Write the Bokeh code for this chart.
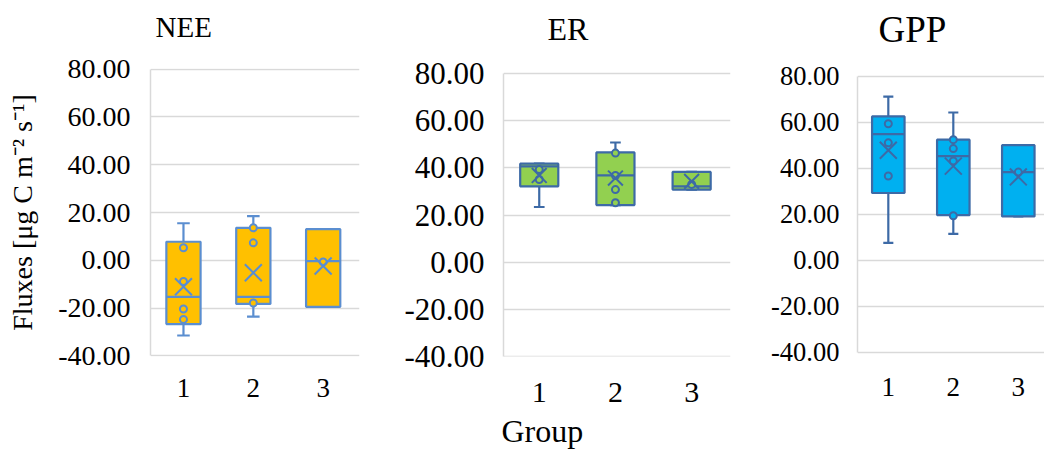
from bokeh.plotting import figure
from bokeh.layouts import row
from bokeh.models import FixedTicker, PrintfTickFormatter, LinearAxis, Range1d, Title
from bokeh.embed import file_html
from bokeh.resources import INLINE

groups = [1, 2, 3]
y_ticks = [-40, -20, 0, 20, 40, 60, 80]

# NEE box statistics per group
nee_low = [-31.5, -23.6, -19.5]
nee_q1 = [-26.7, -18.3, -19.5]
nee_med = [-15.3, -15.3, -0.4]
nee_q3 = [7.75, 13.6, 13.0]
nee_high = [15.5, 18.5, 13.0]
nee_mean = [-11.1, -5.2, -2.4]
nee_points = [[5.25, -8.9, -20.4, -24.75], [13.6, 7.3, -17.9], [-0.7]]

# ER box statistics per group
er_low = [23.4, 24.2, 30.8]
er_q1 = [32.2, 24.2, 30.8]
er_med = [40.7, 36.8, 32.2]
er_q3 = [41.8, 46.6, 38.3]
er_high = [41.8, 50.8, 38.3]
er_mean = [36.8, 35.7, 34.3]
er_points = [[39.3, 35.1], [46.3, 36.8, 30.8, 25.2], [33.0]]

# GPP box statistics per group
gpp_low = [7.6, 11.5, 19.1]
gpp_q1 = [29.3, 19.7, 19.1]
gpp_med = [54.9, 45.3, 38.4]
gpp_q3 = [62.6, 52.5, 50.1]
gpp_high = [71.2, 64.3, 50.1]
gpp_mean = [47.9, 41.0, 36.3]
gpp_points = [[59.4, 51.1, 36.7], [52.5, 48.6, 43.2, 19.4], [38.4]]

FONT = "Liberation Serif"
GRID = "#d9d9d9"


def spacer(size):
    """Invisible axis that only reserves `size` pixels next to the plot area."""
    return LinearAxis(ticker=FixedTicker(ticks=groups),
                      major_label_overrides={g: "" for g in groups},
                      axis_line_color=None, major_tick_in=0, major_tick_out=size,
                      major_tick_line_color=None, minor_tick_in=0, minor_tick_out=0,
                      major_label_standoff=0)


def caption(text, offset, size, valign):
    return Title(text=text, align="left", offset=offset, standoff=0,
                 vertical_align=valign, text_font=FONT, text_font_size=size,
                 text_font_style="normal", text_color="black")


def panel(name, low, q1, med, q3, high, mean, points, fill, edge, geo):
    p = figure(width=geo["w"], height=451, output_backend="svg", toolbar_location=None,
               x_range=Range1d(*geo["xr"]), y_range=Range1d(*geo["yr"]),
               min_border_left=geo["l"], min_border_right=geo["r"],
               min_border_top=68, min_border_bottom=95,
               outline_line_color=None, background_fill_color="white",
               border_fill_color="white")

    # axes
    p.yaxis.ticker = FixedTicker(ticks=y_ticks)
    p.yaxis.formatter = PrintfTickFormatter(format="%.2f")
    p.yaxis.bounds = (-40, 80)
    p.xaxis.ticker = FixedTicker(ticks=groups)
    for ax in (p.xaxis, p.yaxis):
        ax.major_tick_in = 0
        ax.major_tick_out = 0
        ax.minor_tick_in = 0
        ax.minor_tick_out = 0
        ax.major_label_text_font = FONT
        ax.major_label_text_color = "black"
    p.yaxis.axis_line_color = GRID
    p.yaxis.axis_line_width = 1.5
    p.xaxis.axis_line_color = None
    p.yaxis.major_label_text_font_size = geo["yfs"]
    p.xaxis.major_label_text_font_size = geo["xfs"]
    p.yaxis.major_label_standoff = geo["ystand"]
    p.xaxis.major_label_standoff = geo["xstand"]
    p.xgrid.visible = False
    p.ygrid.ticker = FixedTicker(ticks=y_ticks)
    p.ygrid.grid_line_color = GRID
    p.ygrid.grid_line_width = 1.5

    bw = geo["bw"]
    cw = geo["cw"]
    lw = 2.2
    # whiskers and caps
    p.segment(x0=groups, y0=q3, x1=groups, y1=high, line_color=edge, line_width=lw)
    p.segment(x0=groups, y0=q1, x1=groups, y1=low, line_color=edge, line_width=lw)
    p.segment(x0=[g - cw / 2 for g in groups], y0=high,
              x1=[g + cw / 2 for g in groups], y1=high, line_color=edge, line_width=lw)
    p.segment(x0=[g - cw / 2 for g in groups], y0=low,
              x1=[g + cw / 2 for g in groups], y1=low, line_color=edge, line_width=lw)
    # boxes
    p.vbar(x=groups, width=bw, top=q3, bottom=q1, fill_color=fill,
           line_color=edge, line_width=lw)
    # medians
    p.segment(x0=[g - bw / 2 for g in groups], y0=med,
              x1=[g + bw / 2 for g in groups], y1=med, line_color=edge, line_width=lw)
    # inner points
    px = [g for g, pts in zip(groups, points) for _ in pts]
    py = [v for pts in points for v in pts]
    p.scatter(px, py, marker="circle", size=geo["ps"], fill_color=fill,
              line_color=edge, line_width=2)
    # means
    p.scatter(groups, mean, marker="x", size=geo["ms"], line_color=edge, line_width=2)

    # panel heading, lifted above the plot area by a spacer
    p.add_layout(spacer(geo["tgap"]), "above")
    p.add_layout(caption(name, geo["toff"], geo["tfs"], "bottom"), "above")
    return p


p1 = panel("NEE", nee_low, nee_q1, nee_med, nee_q3, nee_high, nee_mean, nee_points,
           "#FFC000", "#5B8ED0",
           dict(w=380, l=150, r=21, xr=(0.528, 3.52), yr=(-40.293, 80.293),
                bw=0.49, cw=0.18, yfs="28px", xfs="27px", ystand=20, xstand=22,
                ps=7, ms=24, tgap=26, toff=5, tfs="29px"))
p1.yaxis.axis_label = "Fluxes [μg C m⁻² s⁻¹]"
p1.yaxis.axis_label_text_font = FONT
p1.yaxis.axis_label_text_font_size = "28px"
p1.yaxis.axis_label_text_font_style = "normal"
p1.yaxis.axis_label_text_color = "black"
p1.yaxis.axis_label_standoff = 17

p2 = panel("ER", er_low, er_q1, er_med, er_q3, er_high, er_mean, er_points,
           "#92D050", "#3D6AA6",
           dict(w=380, l=123, r=30, xr=(0.531, 3.51), yr=(-40.127, 82.252),
                bw=0.5, cw=0.14, yfs="31px", xfs="30px", ystand=19, xstand=26,
                ps=7, ms=21, tgap=22, toff=44, tfs="32px"))
p2.add_layout(spacer(8), "below")
p2.add_layout(caption("Group", -2, "32px", "top"), "below")

p3 = panel("GPP", gpp_low, gpp_q1, gpp_med, gpp_q3, gpp_high, gpp_mean, gpp_points,
           "#00B0F0", "#3D6AA6",
           dict(w=284, l=97, r=0, xr=(0.526, 3.403), yr=(-41.783, 83.435),
                bw=0.5, cw=0.155, yfs="26.5px", xfs="27px", ystand=18, xstand=21,
                ps=7, ms=24, tgap=19, toff=21, tfs="37px"))

layout = row(p1, p2, p3, spacing=0)
open("out.html", "w").write(file_html(layout, INLINE))
